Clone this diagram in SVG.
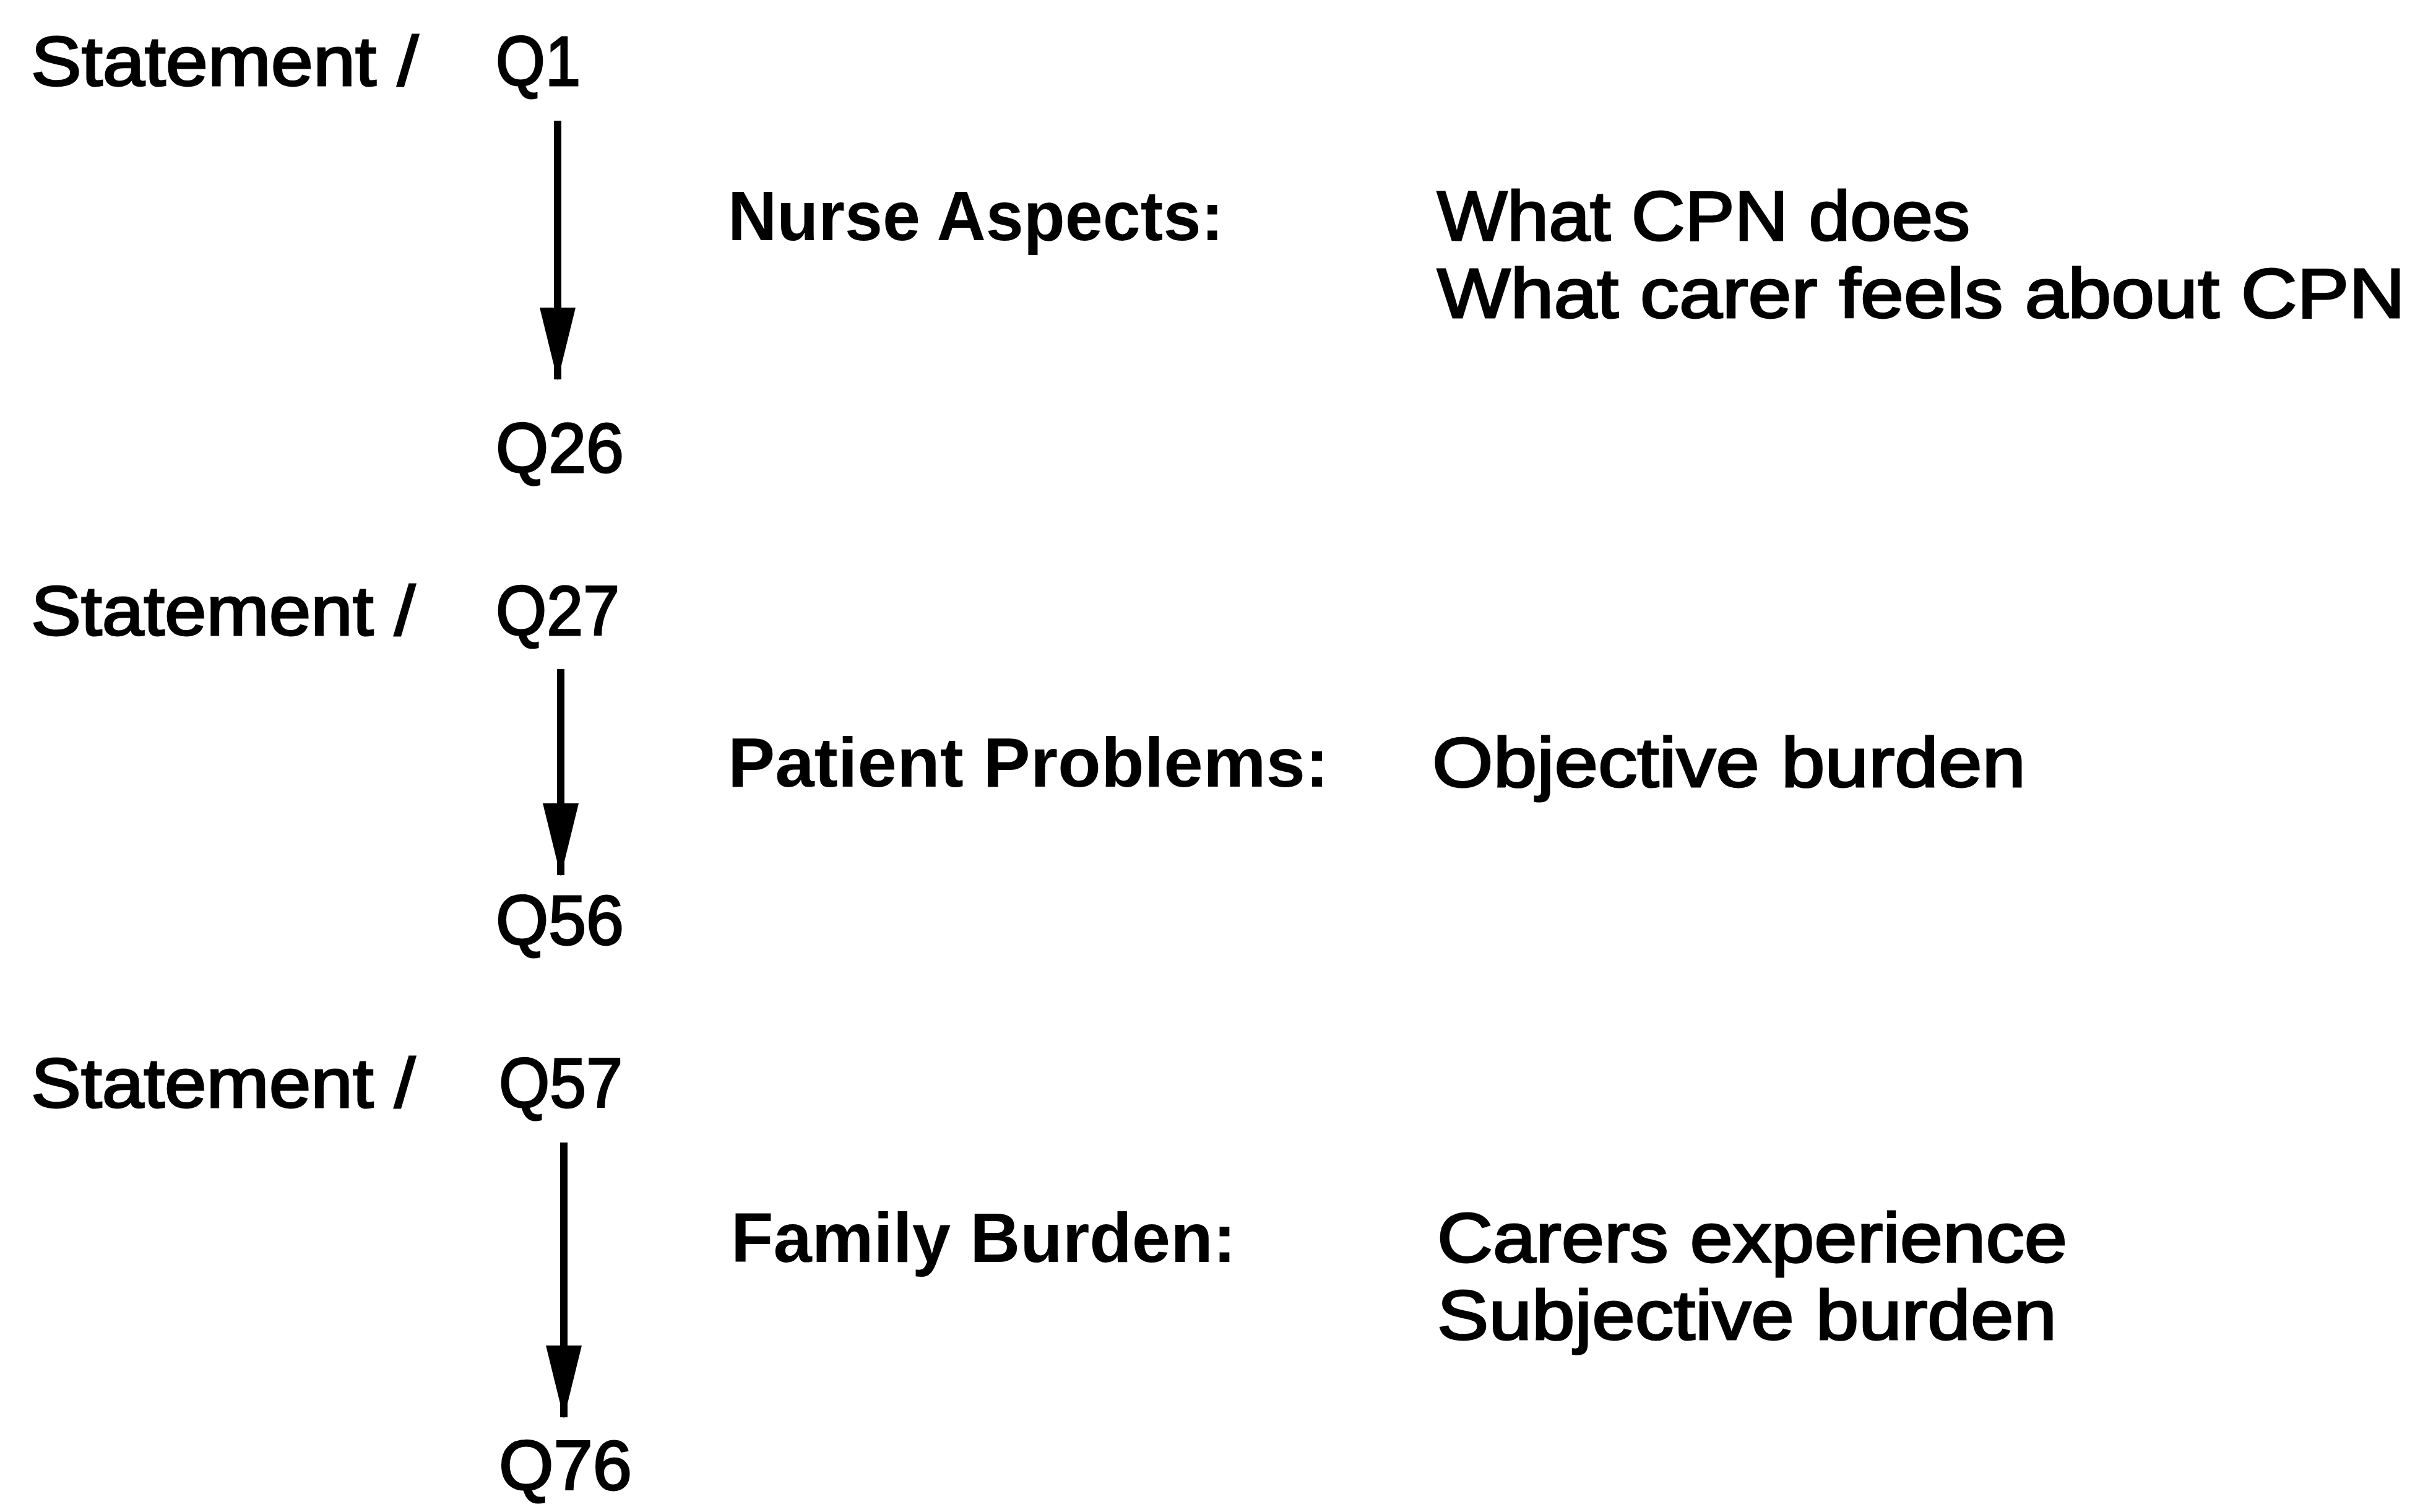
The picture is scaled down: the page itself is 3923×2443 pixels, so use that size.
<svg xmlns="http://www.w3.org/2000/svg" width="3923" height="2443" viewBox="0 0 3923 2443">
<style>
text{font-family:"Liberation Sans","DejaVu Sans",Arial,sans-serif;font-size:114px;fill:#000;stroke:#000;stroke-width:3;}
.lbl{font-weight:bold;stroke-width:0;}
.conn line{stroke:#000;stroke-width:12;}
</style>
<defs>
<marker id="ah" viewBox="0 0 118 58" refX="116" refY="29" markerWidth="118" markerHeight="58" markerUnits="userSpaceOnUse" orient="auto">
<path d="M0 0 L118 29 L0 58 Z" fill="#000"/>
</marker>
</defs>
<rect width="3923" height="2443" fill="#fff"/>
<g id="start1"><text x="50" y="138" textLength="626" lengthAdjust="spacingAndGlyphs">Statement /</text><text x="801" y="138" textLength="137" lengthAdjust="spacingAndGlyphs">Q1</text></g>
<g id="end1"><text x="801" y="763" textLength="207" lengthAdjust="spacingAndGlyphs">Q26</text></g>
<g id="cat1"><text class="lbl" x="1176" y="388" textLength="801" lengthAdjust="spacingAndGlyphs">Nurse Aspects:</text></g>
<g id="desc1"><text x="2322" y="388" textLength="861" lengthAdjust="spacingAndGlyphs">What CPN does</text><text x="2322" y="513" textLength="1564" lengthAdjust="spacingAndGlyphs">What carer feels about CPN</text></g>
<g id="start2"><text x="50" y="1026" textLength="621" lengthAdjust="spacingAndGlyphs">Statement /</text><text x="801" y="1026" textLength="200" lengthAdjust="spacingAndGlyphs">Q27</text></g>
<g id="end2"><text x="801" y="1526" textLength="207" lengthAdjust="spacingAndGlyphs">Q56</text></g>
<g id="cat2"><text class="lbl" x="1176" y="1271" textLength="971" lengthAdjust="spacingAndGlyphs">Patient Problems:</text></g>
<g id="desc2"><text x="2314" y="1271" textLength="959" lengthAdjust="spacingAndGlyphs">Objective burden</text></g>
<g id="start3"><text x="50" y="1789" textLength="621" lengthAdjust="spacingAndGlyphs">Statement /</text><text x="806" y="1789" textLength="200" lengthAdjust="spacingAndGlyphs">Q57</text></g>
<g id="end3"><text x="806" y="2407" textLength="215" lengthAdjust="spacingAndGlyphs">Q76</text></g>
<g id="cat3"><text class="lbl" x="1181" y="2039" textLength="816" lengthAdjust="spacingAndGlyphs">Family Burden:</text></g>
<g id="desc3"><text x="2322" y="2039" textLength="1018" lengthAdjust="spacingAndGlyphs">Carers experience</text><text x="2322" y="2164" textLength="1001" lengthAdjust="spacingAndGlyphs">Subjective burden</text></g>
<g id="connectors" class="conn">
<line x1="901" y1="195" x2="901" y2="613" marker-end="url(#ah)"/>
<line x1="906" y1="1081" x2="906" y2="1414" marker-end="url(#ah)"/>
<line x1="911" y1="1846" x2="911" y2="2290" marker-end="url(#ah)"/>
</g>
</svg>
